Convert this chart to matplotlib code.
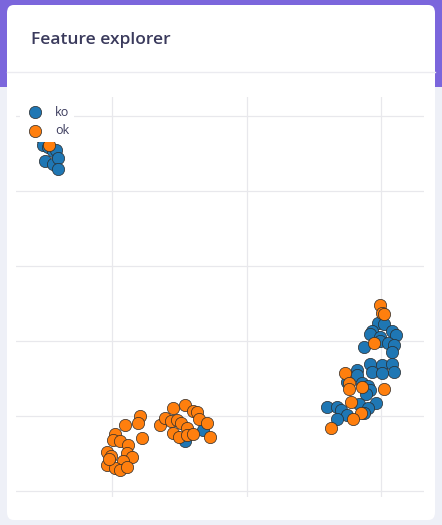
import matplotlib
matplotlib.use("Agg")
import matplotlib.pyplot as plt
from matplotlib.patches import FancyBboxPatch, Rectangle
from matplotlib.lines import Line2D

title = "Feature explorer"
labels = ["ko", "ok"]
colors = ["#1f77b4", "#ff7f0e"]

x_ticks = [-20, 0, 20]
y_ticks = [20, 10, 0, -10, -20, -30]

ko_x = [-30.5, -30.3, -29.6, -28.8, -28.3, -30.0, -28.8, -28.1, -28.0, -29.3,
        -6.5, -9.1,
        19.6, 20.5, 18.7, 18.3, 19.9, 21.6, 22.3, 17.5, 19.8, 21.0, 22.0, 21.7,
        18.4, 20.2, 21.7, 18.6, 20.2, 22.0, 16.4, 16.5, 15.0, 17.2, 18.1, 18.3,
        17.8, 19.2, 16.8, 18.0, 12.0, 13.5, 14.0, 14.9, 17.5, 13.4]
ko_y = [17.1, 16.1, 15.9, 15.3, 15.5, 14.0, 13.6, 14.4, 12.9, 17.3,
        -21.9, -23.3,
        -7.6, -7.7, -8.7, -9.1, -9.5, -8.7, -9.2, -10.8, -10.0, -10.3, -10.5, -11.5,
        -13.1, -13.2, -13.1, -14.1, -14.3, -14.1, -13.9, -14.5, -15.5, -15.6, -16.0, -16.5,
        -17.1, -18.3, -18.4, -18.9, -18.8, -18.8, -19.2, -19.9, -19.6, -20.4]

ok_x = [-29.4,
        -15.8, -16.2, -18.1, -19.5, -19.9, -18.9, -15.6, -17.7, -20.7, -20.1,
        -17.8, -17.1, -18.4, -20.7, -19.6, -18.9, -17.8, -20.4,
        -12.9, -12.2, -11.3, -10.9, -10.4, -9.7, -9.2, -8.9, -8.0, -7.4, -7.1,
        -5.9, -10.9, -10.0, -8.9, -7.9, -5.4,
        19.8, 20.2, 20.5, 18.9, 14.6, 15.3, 15.2, 17.2, 20.4, 15.6, 17.1, 15.8, 12.5]
ok_y = [16.1,
        -20.0, -20.9, -21.2, -22.4, -23.2, -23.3, -22.9, -23.9, -24.8, -25.3,
        -24.9, -25.5, -26.0, -26.5, -26.9, -27.2, -26.8, -25.7,
        -21.2, -20.3, -20.7, -18.9, -20.5, -20.9, -18.5, -21.6, -19.3, -19.5, -20.4,
        -20.9, -22.3, -22.8, -22.5, -22.4, -22.8,
        -5.2, -6.3, -6.4, -10.3, -14.3, -15.6, -16.4, -16.1, -16.4, -18.1, -19.6, -20.4, -21.6]

W, H = 442, 525
fig = plt.figure(figsize=(W / 100, H / 100), dpi=100)
fig.patch.set_facecolor("#eef0f7")

# page background: purple header band
fig.patches.append(Rectangle((0, 1 - 87 / H), 1, 87 / H, transform=fig.transFigure,
                             facecolor="#7b66dc", edgecolor="none", zorder=0))
# white card
fig.patches.append(FancyBboxPatch((7 / W, 1 - 520 / H), 428 / W, 515 / H,
                                  boxstyle="round,pad=0,rounding_size=0.015",
                                  transform=fig.transFigure, facecolor="white",
                                  edgecolor="none", zorder=1))
# divider under header
fig.add_artist(Line2D([7 / W, 435 / W], [1 - 72 / H, 1 - 72 / H], transform=fig.transFigure,
                      color="#ebebf0", lw=1, zorder=2))
fig.text(31 / W, 1 - 40 / H, title, fontsize=12.5, fontweight="semibold",
         family="Open Sans", color="#3a3a5c", va="center", ha="left", zorder=3)

ax = fig.add_axes([16 / W, 1 - 497 / H, 408 / W, 400 / H])
ax.set_facecolor("none")
ax.set_zorder(3)
ax.scatter(ko_x, ko_y, s=78, c=colors[0], edgecolors="#2a2a2a", linewidths=0.5,
           label=labels[0], zorder=3)
ax.scatter(ok_x, ok_y, s=78, c=colors[1], edgecolors="#2a2a2a", linewidths=0.5,
           label=labels[1], zorder=3)

ax.set_xlim(-34.3, 26.4)
ax.set_ylim(-30.8, 22.5)
ax.set_xticks(x_ticks)
ax.set_yticks(y_ticks)
ax.tick_params(length=0, labelbottom=False, labelleft=False)
ax.grid(True, color="#e8e8ec", lw=0.9)
ax.set_axisbelow(True)
for sp in ax.spines.values():
    sp.set_visible(False)

leg = ax.legend(loc="upper left", frameon=True, facecolor="white", edgecolor="none",
                framealpha=1, handlelength=1.64, handletextpad=0.78, borderaxespad=0.3,
                borderpad=0.4, labelspacing=0.45, markerscale=1.0,
                prop={"family": "Open Sans", "size": 9})
for t in leg.get_texts():
    t.set_color("#3a3a5c")

fig.savefig("out.png", dpi=100)
